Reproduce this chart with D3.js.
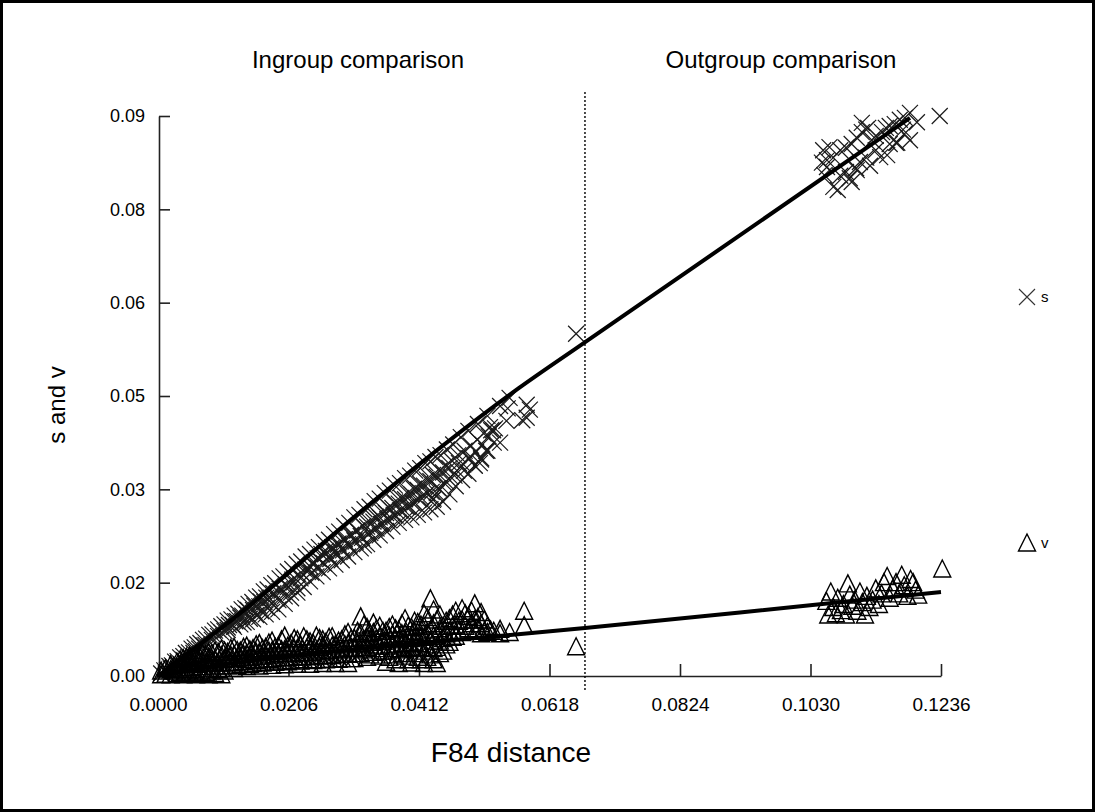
<!DOCTYPE html>
<html>
<head>
<meta charset="utf-8">
<script src="https://cdn.jsdelivr.net/npm/d3@7"></script>
<style>
  body { margin: 0; background: #fff; }
  svg text { font-family: "Liberation Sans", Arial, sans-serif; fill: #000; }
</style>
</head>
<body>
<svg id="chart" width="1095" height="812"></svg>
<script>
// axis ticks
const xTicks = [0, 0.0206, 0.0412, 0.0618, 0.0824, 0.1030, 0.1236];
const xTickLabels = ["0.0000", "0.0206", "0.0412", "0.0618", "0.0824", "0.1030", "0.1236"];
const yTicks = [0, 0.015, 0.03, 0.045, 0.06, 0.075, 0.09];
const yTickLabels = ["0.00", "0.02", "0.03", "0.05", "0.06", "0.08", "0.09"];

// ingroup / outgroup boundary
const divider = 0.0674;

// transitions (s) vs F84 distance
const sPoints = [
  [0.0005,0.0004],[0.0010,0.0009],[0.0014,0.0010],[0.0018,0.0016],[0.0022,0.0017],[0.0027,0.0023],[0.0031,0.0024],
  [0.0035,0.0030],[0.0040,0.0032],[0.0044,0.0037],[0.0049,0.0038],[0.0053,0.0044],[0.0058,0.0046],[0.0062,0.0051],
  [0.0067,0.0053],[0.0071,0.0058],[0.0076,0.0060],[0.0081,0.0066],[0.0086,0.0067],[0.0090,0.0073],[0.0095,0.0075],
  [0.0100,0.0080],[0.0105,0.0083],[0.0110,0.0089],[0.0116,0.0091],[0.0121,0.0097],[0.0127,0.0100],[0.0132,0.0107],
  [0.0138,0.0109],[0.0143,0.0116],[0.0149,0.0119],[0.0155,0.0126],[0.0161,0.0128],[0.0167,0.0136],[0.0173,0.0139],
  [0.0179,0.0146],[0.0185,0.0149],[0.0192,0.0157],[0.0198,0.0160],[0.0205,0.0168],[0.0212,0.0172],[0.0219,0.0180],
  [0.0226,0.0184],[0.0233,0.0192],[0.0240,0.0196],[0.0247,0.0203],[0.0254,0.0207],[0.0262,0.0215],[0.0270,0.0219],
  [0.0278,0.0228],[0.0286,0.0232],[0.0294,0.0241],[0.0302,0.0246],[0.0310,0.0255],[0.0318,0.0259],[0.0326,0.0268],
  [0.0334,0.0272],[0.0342,0.0281],[0.0350,0.0285],[0.0358,0.0294],[0.0366,0.0298],[0.0374,0.0306],[0.0382,0.0310],
  [0.0390,0.0318],[0.0398,0.0322],[0.0406,0.0330],[0.0414,0.0334],[0.0422,0.0342],[0.0430,0.0345],[0.0438,0.0352],
  [0.0446,0.0355],[0.0456,0.0364],[0.0466,0.0372],[0.0478,0.0384],[0.0490,0.0394],[0.0505,0.0405],[0.0520,0.0418],
  [0.0540,0.0434],[0.0555,0.0447],
  [0.0020,0.0012],[0.0030,0.0018],[0.0040,0.0026],[0.0048,0.0031],[0.0056,0.0037],[0.0065,0.0044],[0.0072,0.0049],
  [0.0060,0.0040],[0.0075,0.0050],[0.0085,0.0058],[0.0095,0.0064],[0.0105,0.0072],[0.0110,0.0078],[0.0118,0.0082],
  [0.0125,0.0088],[0.0130,0.0094],[0.0135,0.0086],[0.0140,0.0100],[0.0145,0.0092],[0.0150,0.0106],[0.0155,0.0098],
  [0.0160,0.0112],[0.0163,0.0104],[0.0168,0.0119],[0.0172,0.0110],[0.0176,0.0125],[0.0180,0.0116],[0.0185,0.0130],
  [0.0190,0.0122],[0.0195,0.0137],[0.0200,0.0128],[0.0205,0.0143],[0.0210,0.0134],[0.0214,0.0150],[0.0220,0.0141],
  [0.0225,0.0157],[0.0230,0.0162],[0.0236,0.0170],[0.0240,0.0176],[0.0246,0.0183],[0.0252,0.0189],[0.0258,0.0196],
  [0.0265,0.0201],[0.0270,0.0192],[0.0275,0.0207],[0.0280,0.0200],[0.0285,0.0213],[0.0290,0.0205],[0.0295,0.0220],
  [0.0300,0.0212],[0.0305,0.0227],[0.0310,0.0218],[0.0315,0.0234],[0.0320,0.0225],[0.0325,0.0210],[0.0330,0.0240],
  [0.0335,0.0230],[0.0340,0.0248],[0.0345,0.0237],[0.0350,0.0255],[0.0355,0.0244],[0.0360,0.0262],[0.0365,0.0250],
  [0.0370,0.0270],[0.0375,0.0258],[0.0380,0.0277],[0.0385,0.0265],[0.0390,0.0284],[0.0395,0.0272],[0.0400,0.0292],
  [0.0405,0.0279],[0.0410,0.0299],[0.0415,0.0287],[0.0420,0.0306],[0.0425,0.0294],[0.0430,0.0313],[0.0435,0.0285],
  [0.0440,0.0320],[0.0445,0.0300],[0.0450,0.0327],[0.0455,0.0312],[0.0460,0.0334],[0.0468,0.0322],[0.0475,0.0342],
  [0.0483,0.0330],[0.0490,0.0350],[0.0500,0.0338],[0.0510,0.0348],[0.0518,0.0362],[0.0526,0.0395],[0.0540,0.0375],
  [0.0100,0.0070],[0.0110,0.0074],[0.0112,0.0082],[0.0120,0.0079],[0.0122,0.0088],[0.0130,0.0083],[0.0133,0.0097],
  [0.0140,0.0087],[0.0142,0.0106],[0.0150,0.0091],[0.0152,0.0113],[0.0160,0.0095],[0.0162,0.0120],[0.0170,0.0099],
  [0.0171,0.0126],[0.0180,0.0103],[0.0182,0.0133],[0.0190,0.0107],[0.0192,0.0140],[0.0200,0.0116],[0.0202,0.0147],
  [0.0210,0.0125],[0.0212,0.0155],[0.0220,0.0134],[0.0222,0.0163],[0.0230,0.0143],[0.0232,0.0171],[0.0240,0.0152],
  [0.0242,0.0166],[0.0244,0.0180],[0.0250,0.0160],[0.0252,0.0174],[0.0254,0.0188],[0.0260,0.0167],[0.0262,0.0181],
  [0.0264,0.0196],[0.0270,0.0173],[0.0272,0.0188],[0.0274,0.0204],[0.0280,0.0179],[0.0282,0.0195],[0.0284,0.0211],
  [0.0290,0.0186],[0.0292,0.0202],[0.0294,0.0219],[0.0300,0.0192],[0.0302,0.0209],[0.0304,0.0226],[0.0310,0.0199],
  [0.0312,0.0216],[0.0314,0.0234],[0.0320,0.0205],[0.0322,0.0222],[0.0324,0.0241],[0.0330,0.0212],[0.0332,0.0229],
  [0.0334,0.0248],[0.0340,0.0219],[0.0342,0.0237],[0.0344,0.0256],[0.0350,0.0226],[0.0352,0.0244],[0.0354,0.0263],
  [0.0360,0.0233],[0.0362,0.0252],[0.0364,0.0271],[0.0370,0.0240],[0.0372,0.0259],[0.0374,0.0279],[0.0380,0.0246],
  [0.0382,0.0266],[0.0384,0.0286],[0.0390,0.0251],[0.0392,0.0272],[0.0394,0.0294],[0.0400,0.0255],[0.0402,0.0278],
  [0.0404,0.0301],[0.0410,0.0259],[0.0412,0.0284],[0.0414,0.0309],[0.0420,0.0263],[0.0422,0.0290],[0.0424,0.0316],
  [0.0430,0.0268],[0.0432,0.0296],[0.0434,0.0323],[0.0440,0.0272],[0.0442,0.0302],[0.0444,0.0330],[0.0450,0.0280],
  [0.0452,0.0310],[0.0454,0.0338],[0.0460,0.0292],[0.0462,0.0320],[0.0464,0.0346],[0.0470,0.0305],[0.0472,0.0330],
  [0.0474,0.0355],[0.0480,0.0315],[0.0482,0.0340],[0.0484,0.0362],[0.0490,0.0325],[0.0492,0.0350],[0.0494,0.0370],
  [0.0500,0.0338],[0.0502,0.0360],[0.0504,0.0380],[0.0510,0.0350],[0.0512,0.0372],[0.0514,0.0390],[0.0520,0.0362],
  [0.0522,0.0385],[0.0524,0.0400],[0.0530,0.0375],[0.0532,0.0398],[0.0550,0.0410],[0.0552,0.0430],
  [0.0587,0.0428],[0.0582,0.0436],[0.0575,0.0411],[0.0582,0.0415],[0.0529,0.0395],[0.0508,0.0342],[0.0440,0.0294],
  [0.0434,0.0283],
  [0.0660,0.0550],
  [0.1050,0.0845],[0.1060,0.0850],[0.1048,0.0825],[0.1052,0.0805],
  [0.1056,0.0829],[0.1066,0.0833],[0.1077,0.0845],[0.1086,0.0849],[0.1095,0.0855],[0.1103,0.0865],[0.1111,0.0874],
  [0.1118,0.0878],[0.1111,0.0889],[0.1121,0.0881],[0.1127,0.0861],[0.1133,0.0868],[0.1143,0.0874],[0.1149,0.0881],
  [0.1155,0.0884],[0.1163,0.0887],[0.1171,0.0894],[0.1179,0.0897],[0.1187,0.0905],[0.1198,0.0890],
  [0.1056,0.0818],[0.1066,0.0786],[0.1073,0.0781],[0.1077,0.0804],[0.1086,0.0810],[0.1092,0.0800],[0.1095,0.0794],
  [0.1102,0.0816],[0.1103,0.0813],[0.1108,0.0826],[0.1118,0.0833],[0.1124,0.0820],[0.1133,0.0845],[0.1140,0.0834],
  [0.1151,0.0837],[0.1155,0.0855],[0.1165,0.0857],[0.1167,0.0857],[0.1176,0.0878],[0.1187,0.0861],[0.1178,0.0871],
  [0.1234,0.0900]
];

// transversions (v) vs F84 distance
const vPoints = [
  [0.0005,0.0002],[0.0005,0.0008],[0.0012,0.0003],[0.0012,0.0012],[0.0020,0.0002],[0.0020,0.0010],[0.0020,0.0018],
  [0.0030,0.0004],[0.0030,0.0013],[0.0030,0.0022],[0.0040,0.0002],[0.0040,0.0010],[0.0040,0.0020],[0.0040,0.0028],
  [0.0050,0.0004],[0.0050,0.0014],[0.0050,0.0024],[0.0050,0.0032],[0.0060,0.0002],[0.0060,0.0010],[0.0060,0.0019],
  [0.0060,0.0028],[0.0060,0.0035],[0.0070,0.0004],[0.0070,0.0015],[0.0070,0.0025],[0.0070,0.0036],[0.0080,0.0002],
  [0.0080,0.0011],[0.0080,0.0020],[0.0080,0.0030],[0.0080,0.0038],[0.0090,0.0004],[0.0090,0.0016],[0.0090,0.0026],
  [0.0090,0.0040],[0.0100,0.0002],[0.0100,0.0012],[0.0100,0.0022],[0.0100,0.0033],[0.0100,0.0043],[0.0110,0.0016],
  [0.0110,0.0028],[0.0110,0.0038],[0.0120,0.0012],[0.0120,0.0022],[0.0120,0.0034],[0.0120,0.0046],[0.0130,0.0018],
  [0.0130,0.0030],[0.0130,0.0040],[0.0140,0.0015],[0.0140,0.0026],[0.0140,0.0036],[0.0140,0.0048],[0.0150,0.0020],
  [0.0150,0.0032],[0.0150,0.0044],[0.0160,0.0016],[0.0160,0.0027],[0.0160,0.0038],[0.0160,0.0052],[0.0170,0.0022],
  [0.0170,0.0034],[0.0170,0.0046],[0.0180,0.0017],[0.0180,0.0028],[0.0180,0.0040],[0.0180,0.0056],[0.0190,0.0024],
  [0.0190,0.0036],[0.0190,0.0048],[0.0200,0.0018],[0.0200,0.0030],[0.0200,0.0042],[0.0200,0.0064],[0.0210,0.0025],
  [0.0210,0.0037],[0.0210,0.0052],[0.0220,0.0019],[0.0220,0.0031],[0.0220,0.0044],[0.0220,0.0058],[0.0230,0.0026],
  [0.0230,0.0038],[0.0230,0.0063],[0.0240,0.0019],[0.0240,0.0032],[0.0240,0.0046],[0.0240,0.0055],[0.0250,0.0026],
  [0.0250,0.0040],[0.0250,0.0064],[0.0260,0.0020],[0.0260,0.0033],[0.0260,0.0048],[0.0260,0.0058],[0.0270,0.0027],
  [0.0270,0.0041],[0.0270,0.0062],[0.0280,0.0020],[0.0280,0.0034],[0.0280,0.0050],[0.0290,0.0028],[0.0290,0.0042],
  [0.0290,0.0058],[0.0300,0.0020],[0.0300,0.0035],[0.0300,0.0052],[0.0300,0.0070],[0.0310,0.0028],[0.0310,0.0044],
  [0.0310,0.0060],[0.0320,0.0036],[0.0320,0.0052],[0.0320,0.0068],[0.0320,0.0095],[0.0330,0.0030],[0.0330,0.0046],
  [0.0330,0.0062],[0.0330,0.0078],[0.0340,0.0038],[0.0340,0.0054],[0.0340,0.0070],[0.0340,0.0085],[0.0350,0.0032],
  [0.0350,0.0048],[0.0350,0.0064],[0.0350,0.0080],[0.0360,0.0022],[0.0360,0.0040],[0.0360,0.0056],
  [0.0360,0.0072],[0.0370,0.0034],[0.0370,0.0050],[0.0370,0.0066],[0.0370,0.0082],[0.0380,0.0020],[0.0380,0.0042],
  [0.0380,0.0058],[0.0380,0.0074],[0.0390,0.0032],[0.0390,0.0050],[0.0390,0.0068],[0.0390,0.0092],[0.0400,0.0021],
  [0.0400,0.0044],[0.0400,0.0060],[0.0400,0.0078],[0.0410,0.0030],[0.0410,0.0052],[0.0410,0.0070],[0.0410,0.0086],
  [0.0420,0.0020],[0.0420,0.0040],[0.0420,0.0062],[0.0420,0.0080],[0.0420,0.0100],[0.0430,0.0034],[0.0430,0.0056],
  [0.0430,0.0074],[0.0430,0.0124],[0.0440,0.0020],[0.0440,0.0046],[0.0440,0.0066],[0.0440,0.0090],[0.0450,0.0040],
  [0.0450,0.0060],[0.0450,0.0080],[0.0460,0.0054],[0.0460,0.0072],[0.0460,0.0092],[0.0470,0.0064],[0.0470,0.0082],
  [0.0470,0.0104],[0.0480,0.0070],[0.0480,0.0090],[0.0480,0.0108],[0.0490,0.0076],[0.0490,0.0096],[0.0500,0.0072],
  [0.0500,0.0090],[0.0500,0.0116],[0.0510,0.0068],[0.0510,0.0084],[0.0510,0.0102],[0.0520,0.0070],[0.0520,0.0080],
  [0.0530,0.0072],[0.0540,0.0068],[0.0540,0.0075],[0.0555,0.0070],
  [0.0025,0.0008],[0.0025,0.0016],[0.0035,0.0006],[0.0035,0.0018],[0.0035,0.0026],[0.0045,0.0008],[0.0045,0.0018],
  [0.0045,0.0030],[0.0055,0.0006],[0.0055,0.0020],[0.0055,0.0030],[0.0065,0.0008],[0.0065,0.0022],[0.0065,0.0032],
  [0.0075,0.0006],[0.0075,0.0020],[0.0075,0.0034],[0.0085,0.0008],[0.0085,0.0024],[0.0085,0.0036],[0.0095,0.0010],
  [0.0095,0.0021],[0.0095,0.0038],[0.0105,0.0008],[0.0105,0.0027],[0.0105,0.0040],[0.0115,0.0021],[0.0115,0.0033],
  [0.0115,0.0044],[0.0125,0.0017],[0.0125,0.0028],[0.0125,0.0041],[0.0135,0.0023],[0.0135,0.0035],[0.0135,0.0046],
  [0.0145,0.0019],[0.0145,0.0030],[0.0145,0.0042],[0.0155,0.0025],[0.0155,0.0038],[0.0155,0.0050],[0.0165,0.0021],
  [0.0165,0.0032],[0.0165,0.0044],[0.0175,0.0027],[0.0175,0.0040],[0.0175,0.0053],[0.0185,0.0022],[0.0185,0.0034],
  [0.0185,0.0046],[0.0195,0.0029],[0.0195,0.0042],[0.0195,0.0058],[0.0205,0.0023],[0.0205,0.0036],[0.0205,0.0048],
  [0.0215,0.0030],[0.0215,0.0044],[0.0215,0.0060],[0.0225,0.0024],[0.0225,0.0037],[0.0225,0.0050],[0.0235,0.0031],
  [0.0235,0.0045],[0.0235,0.0058],[0.0245,0.0025],[0.0245,0.0038],[0.0245,0.0052],[0.0255,0.0032],[0.0255,0.0046],
  [0.0255,0.0060],[0.0265,0.0026],[0.0265,0.0040],[0.0265,0.0054],[0.0275,0.0033],[0.0275,0.0048],[0.0275,0.0063],
  [0.0285,0.0027],[0.0285,0.0042],[0.0285,0.0056],[0.0295,0.0035],[0.0295,0.0050],[0.0295,0.0066],[0.0305,0.0028],
  [0.0305,0.0044],[0.0305,0.0060],[0.0315,0.0036],[0.0315,0.0052],[0.0315,0.0072],[0.0325,0.0042],[0.0325,0.0058],
  [0.0325,0.0082],[0.0335,0.0034],[0.0335,0.0050],[0.0335,0.0068],[0.0345,0.0044],[0.0345,0.0060],[0.0345,0.0076],
  [0.0355,0.0040],[0.0355,0.0056],[0.0355,0.0072],[0.0365,0.0030],[0.0365,0.0048],[0.0365,0.0064],
  [0.0365,0.0078],[0.0375,0.0026],[0.0375,0.0044],[0.0375,0.0060],[0.0375,0.0076],[0.0385,0.0036],[0.0385,0.0052],
  [0.0385,0.0068],[0.0385,0.0084],[0.0395,0.0026],[0.0395,0.0046],[0.0395,0.0062],[0.0395,0.0080],[0.0405,0.0036],
  [0.0405,0.0054],[0.0405,0.0072],[0.0405,0.0088],[0.0415,0.0026],[0.0415,0.0046],[0.0415,0.0064],[0.0415,0.0082],
  [0.0425,0.0030],[0.0425,0.0050],[0.0425,0.0070],[0.0425,0.0094],[0.0435,0.0026],[0.0435,0.0044],[0.0435,0.0064],
  [0.0435,0.0084],[0.0435,0.0106],[0.0445,0.0036],[0.0445,0.0056],[0.0445,0.0076],[0.0445,0.0098],[0.0455,0.0050],
  [0.0455,0.0068],[0.0455,0.0088],[0.0465,0.0062],[0.0465,0.0080],[0.0465,0.0098],[0.0475,0.0072],[0.0475,0.0088],
  [0.0485,0.0080],[0.0485,0.0100],[0.0495,0.0084],[0.0495,0.0104],[0.0505,0.0076],[0.0505,0.0094],[0.0515,0.0072],
  [0.0515,0.0090],[0.0525,0.0074],
  [0.0578,0.0104],[0.0578,0.0081],[0.0660,0.0047],
  [0.1055,0.0120],[0.1058,0.0098],[0.1062,0.0135],[0.1066,0.0110],[0.1070,0.0100],[0.1073,0.0125],[0.1078,0.0105],
  [0.1082,0.0115],[0.1086,0.0098],[0.1089,0.0148],[0.1092,0.0130],[0.1096,0.0112],[0.1100,0.0122],[0.1104,0.0104],
  [0.1108,0.0135],[0.1112,0.0118],[0.1116,0.0098],[0.1119,0.0128],[0.1123,0.0110],[0.1128,0.0122],[0.1133,0.0140],
  [0.1138,0.0115],[0.1142,0.0132],[0.1146,0.0150],[0.1151,0.0160],[0.1155,0.0125],[0.1160,0.0140],[0.1165,0.0150],
  [0.1170,0.0132],[0.1174,0.0162],[0.1178,0.0145],[0.1183,0.0128],[0.1188,0.0155],[0.1192,0.0150],[0.1196,0.0138],
  [0.1200,0.0130],[0.1238,0.0172]
];

// fitted trend lines
const sTrend = [[0, 0], [0.013, 0.0101], [0.031, 0.0256], [0.057, 0.0463], [0.0672, 0.0535], [0.1187, 0.0897]];
const vTrend = [[0, 0], [0.010, 0.0018], [0.020, 0.0031], [0.030, 0.0042], [0.040, 0.0052], [0.0556, 0.0066],
                [0.0674, 0.0077], [0.106, 0.0117], [0.1236, 0.0135]];

const svg = d3.select("#chart");

const x = d3.scaleLinear().domain([0, 0.1236]).range([158, 941]);
const y = d3.scaleLinear().domain([0, 0.09]).range([676, 116]);

const crossPath = "M-8,-8L8,8M-8,8L8,-8";
const triPath = "M0,-9L8.5,8L-8.5,8Z";

// frame
svg.append("rect")
  .attr("x", 1.5).attr("y", 1.5)
  .attr("width", 1092).attr("height", 809)
  .attr("fill", "none").attr("stroke", "#000").attr("stroke-width", 3);

// axes
const yAxis = d3.axisLeft(y)
  .tickValues(yTicks)
  .tickFormat((d, i) => yTickLabels[i])
  .tickSizeInner(-11)
  .tickSizeOuter(0)
  .tickPadding(14);

const gy = svg.append("g")
  .attr("transform", "translate(159,0)")
  .call(yAxis);

const xAxis = d3.axisBottom(x)
  .tickValues(xTicks)
  .tickFormat((d, i) => xTickLabels[i])
  .tickSizeInner(-12)
  .tickSizeOuter(0)
  .tickPadding(22);

const gx = svg.append("g")
  .attr("transform", "translate(0,676)")
  .call(xAxis);

[gx, gy].forEach(g => {
  g.attr("font-family", null).attr("font-size", null);
  g.select(".domain").attr("stroke", "#222").attr("stroke-width", 1.6);
  g.selectAll(".tick line").attr("stroke", "#222").attr("stroke-width", 1.6);
});
gy.selectAll(".tick text").attr("font-size", 18).attr("fill", "#222");
gx.selectAll(".tick text").attr("font-size", 19).attr("fill", "#222");

// ingroup/outgroup divider
svg.append("line")
  .attr("x1", x(divider)).attr("x2", x(divider))
  .attr("y1", 92).attr("y2", 690)
  .attr("stroke", "#000").attr("stroke-width", 1.4)
  .attr("stroke-dasharray", "2,2");

// points
svg.append("g").selectAll("path")
  .data(sPoints)
  .join("path")
  .attr("d", crossPath)
  .attr("transform", d => `translate(${x(d[0])},${y(d[1])})`)
  .attr("fill", "none")
  .attr("stroke", "#1a1a1a")
  .attr("stroke-width", 1.2);

svg.append("g").selectAll("path")
  .data(vPoints)
  .join("path")
  .attr("d", triPath)
  .attr("transform", d => `translate(${x(d[0])},${y(d[1])})`)
  .attr("fill", "none")
  .attr("stroke", "#000")
  .attr("stroke-width", 1.4);

// trend lines
const line = d3.line()
  .x(d => x(d[0]))
  .y(d => y(d[1]))
  .curve(d3.curveMonotoneX);

[sTrend, vTrend].forEach(t => {
  svg.append("path")
    .attr("d", line(t))
    .attr("fill", "none")
    .attr("stroke", "#000")
    .attr("stroke-width", 4);
});

// legend
svg.append("path").attr("d", crossPath)
  .attr("transform", "translate(1027,297)")
  .attr("fill", "none").attr("stroke", "#333").attr("stroke-width", 1.1);
svg.append("text").attr("x", 1041).attr("y", 297).attr("dy", "0.35em")
  .attr("font-size", 15).text("s");
svg.append("path").attr("d", triPath)
  .attr("transform", "translate(1027,543)")
  .attr("fill", "none").attr("stroke", "#000").attr("stroke-width", 1.4);
svg.append("text").attr("x", 1041).attr("y", 543).attr("dy", "0.35em")
  .attr("font-size", 15).text("v");

// titles
svg.append("text")
  .attr("x", 358).attr("y", 60).attr("dy", "0.35em")
  .attr("text-anchor", "middle").attr("font-size", 24)
  .text("Ingroup comparison");
svg.append("text")
  .attr("x", 781).attr("y", 60).attr("dy", "0.35em")
  .attr("text-anchor", "middle").attr("font-size", 24)
  .text("Outgroup comparison");

svg.append("text")
  .attr("transform", "translate(57,405)rotate(-90)")
  .attr("dy", "0.35em")
  .attr("text-anchor", "middle").attr("font-size", 24)
  .text("s and v");

svg.append("text")
  .attr("x", 511).attr("y", 752).attr("dy", "0.35em")
  .attr("text-anchor", "middle").attr("font-size", 28)
  .text("F84 distance");
</script>
</body>
</html>
